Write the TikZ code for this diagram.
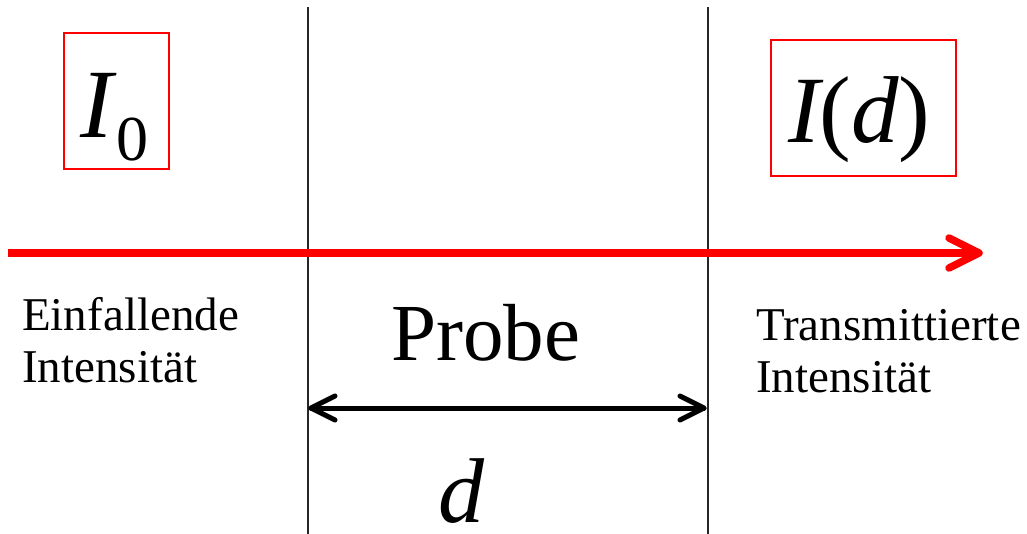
\documentclass[tikz,border=0pt]{standalone}
\usepackage{fontspec}
\setmainfont{Liberation Serif}
\usetikzlibrary{calc}
\tikzset{
  vline/.style={line width=2pt, black!85},
  beam/.style={red, line width=7.5pt},
  beamtip/.style={red, line width=7.5pt, line cap=round, line join=round},
  dimline/.style={black, line width=5pt, line cap=round, line join=round},
  labelbox/.style={draw=red, line width=2pt, inner sep=0pt},
  lbl/.style={inner sep=0pt, anchor=base west, font=\fontsize{47}{52}\selectfont},
  txt/.style={inner sep=0pt, anchor=base west},
}
\begin{document}
\begin{tikzpicture}[x=1pt, y=-1pt]
\useasboundingbox (0,0) rectangle (1027,533);
% vertical sample boundaries
\coordinate (l1top) at (308,7);
\coordinate (l1bot) at (308,540);
\coordinate (l2top) at (708,7);
\coordinate (l2bot) at (708,540);
\draw[vline] (l1top) -- (l1bot);
\draw[vline] (l2top) -- (l2bot);
% beam
\coordinate (beamstart) at (8,253);
\coordinate (beamend) at (979,253);
\draw[beam] (beamstart) -- ($(beamend)+(-3,0)$);
\draw[beamtip] ($(beamend)+(-30,-15)$) -- (beamend) -- ($(beamend)+(-30,15)$);
% boxes
\node[labelbox, minimum width=105pt, minimum height=136pt] (box0) at (116.5,101) {};
\node[labelbox, minimum width=185pt, minimum height=136pt] (boxd) at (863.5,108) {};
\node[txt, font=\fontsize{98}{98}\selectfont\itshape] (I) at (80,137) {I};
\node[txt, font=\fontsize{64}{64}\selectfont] (zero) at (116,160) {0};
\node[txt, font=\fontsize{95}{95}\selectfont] (Id) at (788,142) {\itshape I\upshape(\itshape d\upshape)};
% side labels
\node[lbl] (ein) at (22,330) {Einfallende};
\node[lbl] (int1) at (22,382) {Intensität};
\node[lbl] (trans) at (756,340) {Transmittierte};
\node[lbl] (int2) at (756,392) {Intensität};
% probe
\node[txt, font=\fontsize{81}{81}\selectfont] (probe) at (391,360) {Probe};
% thickness arrow
\coordinate (dl) at (311,408);
\coordinate (dr) at (704,408);
\draw[dimline] (dl) -- (dr);
\draw[dimline] ($(dl)+(24,-12)$) -- (dl) -- ($(dl)+(24,12)$);
\draw[dimline] ($(dr)+(-24,-12)$) -- (dr) -- ($(dr)+(-24,12)$);
\node[txt, font=\fontsize{92}{92}\selectfont\itshape] (d) at (438,522) {d};
\end{tikzpicture}
\end{document}
